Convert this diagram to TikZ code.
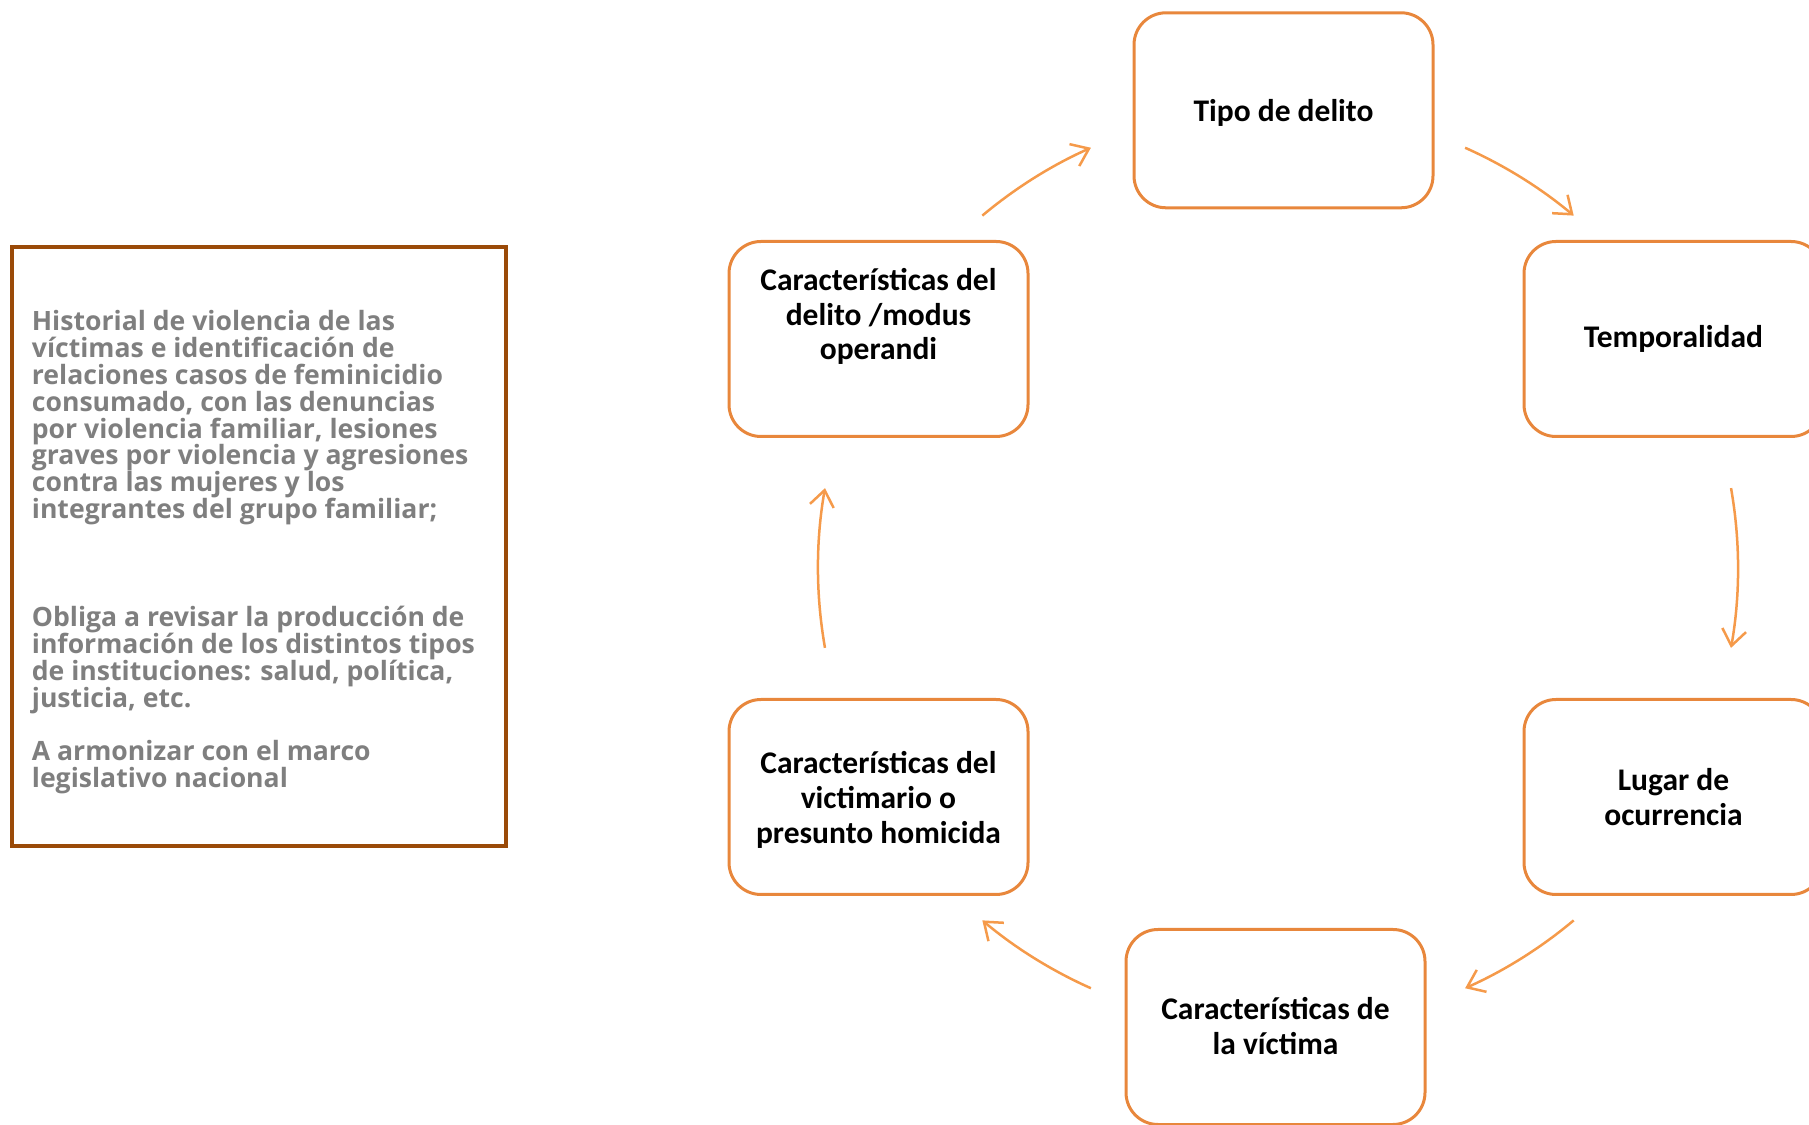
\documentclass[tikz,border=0pt]{standalone}
\usepackage{fontspec}
\setmainfont{Carlito}
\newfontfamily\opensans{Open Sans}
\usetikzlibrary{arrows.meta,calc}
\definecolor{boxorange}{HTML}{E8873C}
\definecolor{arroworange}{HTML}{F59A4A}
\definecolor{brownframe}{HTML}{9A4A08}
\definecolor{greytext}{HTML}{7F7F7F}
\newcommand\histfont{\opensans\bfseries\fontsize{26.6}{26.9}\selectfont\setlength{\lineskip}{0pt}\setlength{\lineskiplimit}{-100pt}\relax}
\begin{document}
\begin{tikzpicture}[x=1pt,y=1pt,
  cyclebox/.style={draw=boxorange, line width=3pt, rounded corners=32pt, minimum width=299pt, minimum height=195pt, inner sep=0pt},
  boxtext/.style={font=\fontsize{31.5}{34.6}\selectfont\bfseries, align=center, text=black},
  cyclearrow/.style={draw=arroworange, line width=2.5pt, -{Straight Barb[length=16pt,width=24pt]}},
  frame/.style={draw=brownframe, line width=4pt, minimum width=494pt, minimum height=599pt, inner sep=0pt},
  histtext/.style={font=\histfont, text=greytext, align=left, inner sep=0pt, anchor=north west}
]
\useasboundingbox (0,0) rectangle (1809,1124);

% left frame and text
\node[frame] (hist) at (259,577.5) {};
\node[histtext] (histtxt) at (31.7,814) {Historial de violencia de las\\
víctimas e identificación de\\
relaciones casos de feminicidio\\
consumado, con las denuncias\\
por violencia familiar, lesiones\\
graves por violencia y agresiones\\
contra las mujeres y los\\
integrantes del grupo familiar;\\[80.7pt]
Obliga a revisar la producción de\\
información de los distintos tipos\\
de instituciones: salud, política,\\
justicia, etc.\\[26.9pt]
A armonizar con el marco\\
legislativo nacional};

% cycle boxes
\node[cyclebox] (tipo) at (1283.5,1013.7) {};
\node[boxtext] (tipotxt) at (1283.5,1011.5) {Tipo de delito};
\node[cyclebox] (delito) at (878.5,785) {};
\node[boxtext] (delitotxt) at (878.5,807.5) {Características del\\delito /modus\\operandi};
\node[cyclebox, boxtext] (temp) at (1673.5,785) {Temporalidad};
\node[cyclebox] (victimario) at (878.5,327) {};
\node[boxtext] (victimariotxt) at (878.5,324) {Características del\\victimario o\\presunto homicida};
\node[cyclebox, boxtext] (lugar) at (1673.5,327) {Lugar de\\ocurrencia};
\node[cyclebox] (victima) at (1275.5,97) {};
\node[boxtext] (victimatxt) at (1275.5,98) {Características de\\la víctima};

% cycle arrows
\coordinate (C) at (1278,556);
\coordinate (a1) at ($(C)+(130:460)$);
\coordinate (a2) at ($(C)+(66:460)$);
\coordinate (a3) at ($(C)+(10:460)$);
\coordinate (a4) at ($(C)+(-50:460)$);
\coordinate (a5) at ($(C)+(-114:460)$);
\coordinate (a6) at ($(C)+(190:460)$);
\draw[cyclearrow] (a1) arc[start angle=130, end angle=114, radius=460];
\draw[cyclearrow] (a2) arc[start angle=66, end angle=50, radius=460];
\draw[cyclearrow] (a3) arc[start angle=10, end angle=-10, radius=460];
\draw[cyclearrow] (a4) arc[start angle=-50, end angle=-66, radius=460];
\draw[cyclearrow] (a5) arc[start angle=-114, end angle=-130, radius=460];
\draw[cyclearrow] (a6) arc[start angle=190, end angle=170, radius=460];
\end{tikzpicture}
\end{document}
